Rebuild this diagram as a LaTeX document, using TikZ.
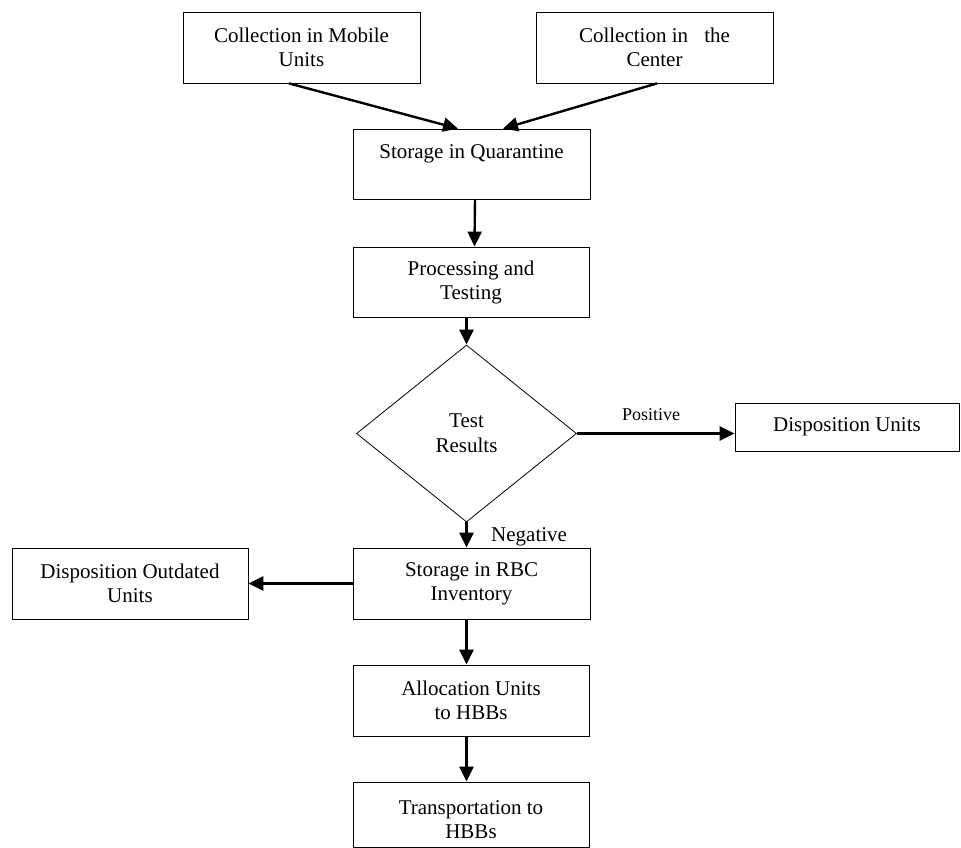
\documentclass[tikz,border=0pt]{standalone}
\usepackage{fontspec}
\setmainfont{Liberation Serif}
\usetikzlibrary{arrows.meta,shapes.geometric,calc}
\begin{document}
\begin{tikzpicture}[x=1pt,y=-1pt,
  box/.style={draw, line width=0.8pt, inner sep=0pt, align=center,
    font=\fontsize{21}{24}\selectfont, minimum width=237pt, minimum height=71pt},
  decision/.style={draw, diamond, line width=0.8pt, inner sep=0pt, align=center,
    aspect=1.243, minimum width=220pt, minimum height=177pt,
    font=\fontsize{21}{25}\selectfont},
  flow/.style={line width=2.4pt, -{Triangle[length=15pt,width=14pt]}},
  lbl/.style={inner sep=0pt}]
\useasboundingbox (0,0) rectangle (961,848);

\node[box] (mob) at (301.5,47.5) {Collection in Mobile\\Units};
\node[box] (cen) at (654.5,47.5) {Collection in\hspace*{11pt} the\\Center};
\node[box, minimum height=70pt] (sto) at (471.5,164) {Storage in Quarantine\\\mbox{}};
\node[box, minimum width=236pt, minimum height=70pt] (proc) at (471,282) {Processing and\\Testing};
\node[decision] (dia) at (466.5,433.5) {Test\\Results};
\node[box, minimum width=224pt, minimum height=48pt] (du) at (847,427) {Disposition Units};
\node[box] (rbc) at (471.5,583.5) {Storage in RBC\\Inventory};
\node[box, minimum width=236pt] (do) at (130,583.5) {Disposition Outdated\\Units};
\node[box, minimum width=236pt] (alloc) at (471,700.5) {Allocation Units\\to HBBs};
\node[box, minimum width=236pt, minimum height=65pt] (trans) at (471,814.5) {};
\node[lbl, align=center, font=\fontsize{21}{24}\selectfont] (transtext) at (471,820) {Transportation to\\HBBs};

\node[lbl, font=\fontsize{18}{20}\selectfont] (pos) at (651,415) {Positive};
\node[lbl, anchor=base west, font=\fontsize{21}{24}\selectfont] (neg) at (491,541) {Negative};

\draw[flow] ($(mob.south)+(-12.5,0)$) -- ($(sto.north)+(-13.5,0)$);
\draw[flow] ($(cen.south)+(2.5,0)$) -- ($(sto.north)+(31.5,0)$);
\draw[flow] ($(sto.south)+(3.5,0)$) -- ($(proc.north)+(3.5,0)$);
\draw[flow] (proc.south -| dia.north) -- (dia.north);
\draw[flow] (dia.east) -- (dia.east -| du.west);
\draw[flow] (dia.south) -- (dia.south |- rbc.north);
\draw[flow] (rbc.west) -- (do.east);
\draw[flow] (rbc.south -| dia.south) -- (alloc.north -| dia.south);
\draw[flow] (alloc.south -| dia.south) -- (trans.north -| dia.south);
\end{tikzpicture}
\end{document}
